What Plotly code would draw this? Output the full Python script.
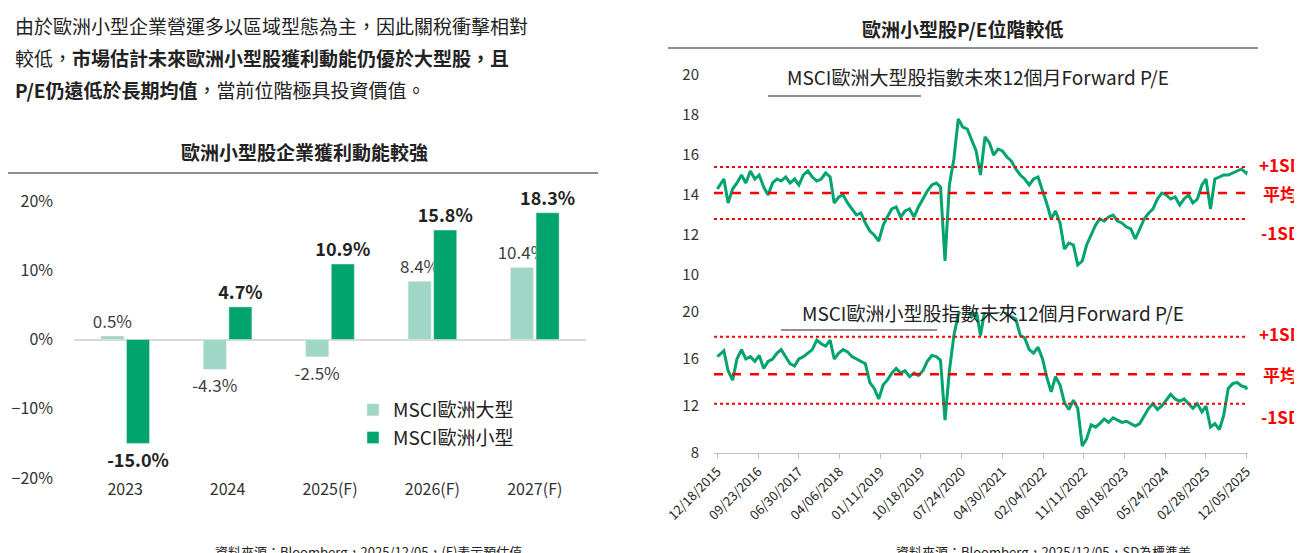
import plotly.graph_objects as go
import pandas as pd

FONT = "Noto Sans CJK TC"
W, H = 1302, 553

years = ["2023", "2024", "2025(F)", "2026(F)", "2027(F)"]
large_growth = [0.5, -4.3, -2.5, 8.4, 10.4]
small_growth = [-15.0, 4.7, 10.9, 15.8, 18.3]

large_pe = [14.3,
    14.8, 13.6, 14.3, 14.6, 15.0, 14.6, 15.2, 14.8, 15.0, 14.4, 14.0, 14.6,
    14.8, 14.7, 14.9, 14.6, 14.8, 14.5, 15.0, 15.2, 14.9, 14.7, 14.8, 15.1,
    14.9, 13.6, 13.9, 14.0, 13.6, 13.3, 13.0, 13.1, 12.6, 12.2, 12.0, 11.7,
    12.5, 12.9, 13.3, 13.4, 12.9, 13.2, 13.3, 12.9, 13.4, 13.8, 14.2, 14.5,
    14.6, 14.4, 10.7, 14.5, 15.8, 17.8, 17.4, 17.3, 16.8, 16.2, 15.0, 16.9,
    16.6, 16.0, 16.3, 16.2, 15.9, 15.7, 15.3, 15.0, 14.8, 14.5, 14.8, 14.9,
    14.2, 13.6, 12.8, 13.2, 12.6, 11.3, 11.6, 11.5, 10.5, 10.7, 11.5, 12.0,
    12.5, 12.8, 12.7, 12.9, 13.0, 12.7, 12.6, 12.4, 12.3, 11.8, 12.3, 12.8,
    13.1, 13.3, 13.8, 14.1, 14.0, 13.8, 13.9, 13.5, 13.8, 14.0, 13.6, 13.8,
    14.5, 14.8, 13.3, 14.8, 14.9, 15.0, 15.0, 15.1, 15.2, 15.3, 15.1, 15.2]
small_pe = [16.2,
    16.7, 15.0, 14.2, 16.0, 16.8, 16.0, 16.2, 15.8, 16.3, 15.2, 15.8, 16.0,
    16.5, 16.8, 16.2, 15.6, 15.4, 16.0, 16.2, 16.5, 16.8, 17.6, 17.3, 17.1,
    17.6, 16.0, 16.5, 16.8, 16.6, 16.2, 16.0, 15.8, 15.6, 14.0, 13.5, 12.6,
    13.8, 14.2, 14.8, 15.2, 14.8, 15.0, 14.5, 14.8, 14.6, 15.0, 15.8, 16.3,
    16.2, 15.9, 10.8, 15.0, 18.0, 19.8, 20.5, 20.3, 19.6, 20.2, 18.0, 20.2,
    20.5, 20.3, 20.0, 20.2, 19.8, 19.6, 19.4, 18.0, 17.8, 16.8, 16.5, 17.0,
    16.0, 14.5, 13.2, 14.5, 13.8, 12.3, 11.7, 12.5, 11.8, 8.6, 9.2, 10.4,
    10.2, 10.5, 10.9, 10.6, 11.0, 10.8, 10.6, 10.7, 10.5, 10.3, 10.5, 11.2,
    11.8, 12.2, 11.7, 12.0, 12.5, 13.0, 12.6, 12.4, 12.6, 12.2, 11.8, 12.2,
    11.5, 12.0, 10.2, 10.5, 10.0, 11.2, 13.5, 13.9, 14.0, 13.7, 13.6, 13.4]
large_bands = [15.4, 14.1, 12.8]
small_bands = [17.9, 14.7, 12.2]
band_labels = ["+1SD", "平均", "-1SD"]
date_ticks = ["12/18/2015", "09/23/2016", "06/30/2017", "04/06/2018", "01/11/2019",
              "10/18/2019", "07/24/2020", "04/30/2021", "02/04/2022", "11/11/2022",
              "08/18/2023", "05/24/2024", "02/28/2025", "12/05/2025"]

dates = list(pd.date_range("2015-12-18", periods=len(large_pe), freq="MS"))
dates[0] = pd.Timestamp("2015-12-18")
dates[-1] = pd.Timestamp("2025-12-05")
tickvals = [pd.to_datetime(d, format="%m/%d/%Y") for d in date_ticks]

def fx(p): return p / W
def fy(p): return 1 - p / H

GREEN = "#00A46C"; LIGHT = "#9FD6C5"; RED = "#FF0000"
fig = go.Figure()
fig.add_bar(x=years, y=large_growth, name="MSCI歐洲大型", marker_color=LIGHT,
            text=[f"{v:.1f}%" for v in large_growth], textposition="outside", constraintext="none",
            textfont=dict(size=17, color="#404040"), cliponaxis=False)
fig.add_bar(x=years, y=small_growth, name="MSCI歐洲小型", marker_color=GREEN,
            text=[f"<b>{v:.1f}%</b>" for v in small_growth], textposition="outside", constraintext="none",
            textfont=dict(size=18, color="#222"), cliponaxis=False)
fig.add_scatter(x=dates, y=large_pe, xaxis="x2", yaxis="y2", mode="lines",
                line=dict(color=GREEN, width=3), showlegend=False)
fig.add_scatter(x=dates, y=small_pe, xaxis="x3", yaxis="y3", mode="lines",
                line=dict(color=GREEN, width=3), showlegend=False)

shapes, ann = [], []
for ax, bands in (("2", large_bands), ("3", small_bands)):
    for i, v in enumerate(bands):
        shapes.append(dict(type="line", xref=f"x{ax} domain", yref=f"y{ax}", x0=0, x1=1, y0=v, y1=v,
                           line=dict(color=RED, width=2.5 if i == 1 else 2,
                                     dash="dash" if i == 1 else "dot")))
        ann.append(dict(xref="paper", yref=f"y{ax}", x=fx(1272), y=v, text=f"<b>{band_labels[i]}</b>",
                        xanchor="center", showarrow=False, font=dict(size=17, color=RED),
                        yshift=3 if i == 0 else (-13 if i == 2 else 0)))
for x0, x1, y in ((0, 590, 165), (660, 1250, 40), (760, 913, 88), (773, 929, 322)):
    shapes.append(dict(type="line", xref="paper", yref="paper", x0=fx(x0), x1=fx(x1), y0=fy(y), y1=fy(y),
                       line=dict(color="#222", width=1.2)))
texts = [
    (5, 17, "由於歐洲小型企業營運多以區域型態為主，因此關稅衝擊相對", 19, "left"),
    (5, 49, "較低，<b>市場估計未來歐洲小型股獲利動能仍優於大型股，且</b>", 19, "left"),
    (5, 81, "<b>P/E仍遠低於長期均值</b>，當前位階極具投資價值。", 19, "left"),
    (296, 144, "<b>歐洲小型股企業獲利動能較強</b>", 19, "center"),
    (955, 20, "<b>歐洲小型股P/E位階較低</b>", 19, "center"),
    (970, 68, "MSCI歐洲大型股指數未來12個月Forward P/E", 19, "center"),
    (985, 304, "MSCI歐洲小型股指數未來12個月Forward P/E", 19, "center"),
    (360, 543, "資料來源：Bloomberg，2025/12/05，(F)表示預估值", 13, "center"),
    (1035, 543, "資料來源：Bloomberg，2025/12/05，SD為標準差", 13, "center"),
]
for x, y, t, s, a in texts:
    ann.append(dict(xref="paper", yref="paper", x=fx(x), y=fy(y), text=t, showarrow=False,
                    xanchor=a, yanchor="middle", font=dict(size=s, color="#222")))

tick = dict(size=16, color="#333")
xr = [pd.Timestamp("2015-11-25"), pd.Timestamp("2025-12-15")]
fig.update_layout(
    width=W, height=H, margin=dict(l=0, r=0, t=0, b=0), paper_bgcolor="white", plot_bgcolor="white",
    font=dict(family=FONT, color="#333"), barmode="group", bargap=0.5, bargroupgap=0.1,
    legend=dict(x=fx(345), y=fy(383), xanchor="left", yanchor="top", font=dict(size=19, color="#222"),
                bgcolor="rgba(0,0,0,0)", tracegroupgap=4),
    xaxis=dict(domain=[fx(66), fx(578)], anchor="y", showline=False, ticks="", tickfont=tick,
               showgrid=False, automargin=False),
    yaxis=dict(domain=[fy(470), fy(193)], range=[-20, 20], dtick=10, ticksuffix="%", tickfont=tick,
               showgrid=False, zeroline=True, zerolinecolor="#D9D9D9", zerolinewidth=1.5,
               ticklabelstandoff=20, automargin=False),
    xaxis2=dict(domain=[fx(706), fx(1240)], anchor="y2", showticklabels=False, showline=False, showgrid=False,
                range=xr, automargin=False),
    yaxis2=dict(domain=[fy(267), fy(67)], anchor="x2", range=[10, 20], dtick=2,
                tickfont=dict(size=15, color="#333"), showgrid=False, zeroline=False,
                ticklabelstandoff=14, automargin=False),
    xaxis3=dict(domain=[fx(706), fx(1240)], anchor="y3", tickvals=tickvals, ticktext=date_ticks,
                tickangle=-45, tickfont=dict(size=13, color="#222"), showline=True, linecolor="#BFBFBF",
                ticks="outside", ticklen=5, tickcolor="#BFBFBF", showgrid=False,
                range=xr, automargin=False),
    yaxis3=dict(domain=[fy(445), fy(304)], anchor="x3", range=[8, 20], dtick=4,
                tickfont=dict(size=15, color="#333"), showgrid=False, zeroline=False,
                ticklabelstandoff=14, automargin=False),
    shapes=shapes, annotations=ann,
)
fig.write_html("out.html")
